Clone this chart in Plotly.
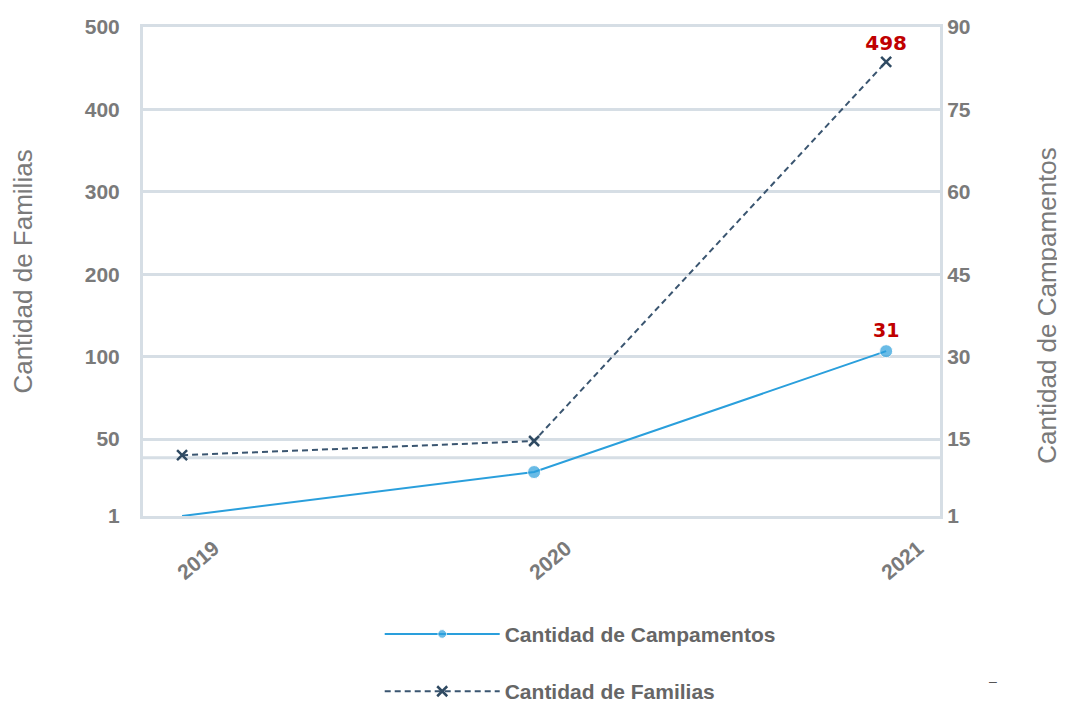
import plotly.graph_objects as go

years = [2019, 2020, 2021]
campamentos = [1, 9, 31]
familias = [28, 45, 498]

# tick labels as printed on each side; the left labels sit on the same grid lines as the right ones
familias_ticks = ["1", "50", "100", "200", "300", "400", "500"]
campamentos_ticks = [1, 15, 30, 45, 60, 75, 90]

camp_range = [1, 90]
fam_range = [-44.6, 539.6]

FONT = "Liberation Sans, Arial, sans-serif"
GREY = "#7a7a7a"
GRID = "#d6dee5"
RED = "#c00000"


def last_label(values):
    return [""] * (len(values) - 1) + [str(values[-1])]


def camp_to_fam(c):
    # same height on the plot, expressed on the familias axis
    t = (c - camp_range[0]) / (camp_range[1] - camp_range[0])
    return fam_range[0] + t * (fam_range[1] - fam_range[0])


fig = go.Figure()

fig.add_trace(
    go.Scatter(
        x=years,
        y=campamentos,
        yaxis="y",
        name="Cantidad de Campamentos",
        legendgroup="c",
        mode="lines+markers+text",
        line={"color": "#2a9fdc", "width": 2},
        marker={"size": [0, 13, 13], "color": "#2a9fdc", "symbol": "circle"},
        text=last_label(campamentos),
        textposition="top center",
        textfont={"color": RED, "size": 19, "family": "DejaVu Sans", "weight": "bold"},
        cliponaxis=False,
    )
)
fig.add_trace(
    go.Scatter(
        x=years,
        y=familias,
        yaxis="y2",
        name="Cantidad de Familias",
        legendgroup="f",
        mode="lines+markers+text",
        line={"color": "#3a5570", "width": 2, "dash": "6px,4px"},
        marker={"size": 10, "color": "#2f4a62", "symbol": "x-thin", "line": {"color": "#2f4a62", "width": 2.5}},
        text=last_label(familias),
        textposition="top center",
        textfont={"color": RED, "size": 20, "family": "DejaVu Sans", "weight": "bold"},
        cliponaxis=False,
    )
)

# extra light rule seen in the original between the 1 and 15 grid lines
fig.add_shape(
    type="line", xref="paper", x0=0, x1=1, yref="y", y0=11.6, y1=11.6,
    line={"color": GRID, "width": 3}, layer="below",
)

fig.add_annotation(
    text="Cantidad de Campamentos",
    textangle=-90,
    xref="paper", x=1, xanchor="center", xshift=107,
    yref="paper", y=0.43, yanchor="middle",
    showarrow=False,
    font={"size": 26, "color": GREY},
)
# stray dash at the lower right of the original
fig.add_annotation(
    text="–",
    xref="paper", x=1, xanchor="center", xshift=53,
    yref="paper", y=-0.337, yanchor="middle",
    showarrow=False,
    font={"size": 14, "color": "#555555"},
)

tick_font = {"size": 21, "color": GREY, "weight": "bold"}
title_font = {"size": 26, "color": GREY}

fig.update_layout(
    width=1057,
    height=696,
    paper_bgcolor="white",
    plot_bgcolor="white",
    margin={"l": 135, "r": 125, "t": 19, "b": 188, "autoexpand": False},
    font={"family": FONT, "color": GREY},
    showlegend=True,
    legend={
        "orientation": "v",
        "x": 0.297,
        "y": -0.2,
        "xanchor": "left",
        "yanchor": "top",
        "font": {"size": 21, "color": "#666666", "weight": "bold"},
        "itemwidth": 115,
        "tracegroupgap": 27,
        "traceorder": "grouped",
    },
    xaxis={
        "range": [2018.889, 2021.153],
        "tickvals": years,
        "ticktext": [str(y) for y in years],
        "tickangle": -40,
        "showgrid": False,
        "zeroline": False,
        "showline": True,
        "mirror": True,
        "linecolor": GRID,
        "linewidth": 3,
        "ticklabelstandoff": 9,
        "ticklabelshift": 32,
        "tickfont": {"size": 21, "color": GREY, "weight": "bold"},
    },
    yaxis={
        "side": "right",
        "range": camp_range,
        "tickvals": campamentos_ticks,
        "showgrid": True,
        "gridcolor": GRID,
        "gridwidth": 3,
        "zeroline": False,
        "showline": True,
        "linecolor": GRID,
        "linewidth": 3,
        "tickfont": tick_font,
    },
    yaxis2={
        "title": {"text": "Cantidad de Familias", "font": title_font, "standoff": 55},
        "overlaying": "y",
        "side": "left",
        "range": fam_range,
        "tickvals": [camp_to_fam(c) for c in campamentos_ticks],
        "ticktext": familias_ticks,
        "showgrid": False,
        "zeroline": False,
        "showline": True,
        "linecolor": GRID,
        "linewidth": 3,
        "ticklabelstandoff": 16,
        "tickfont": tick_font,
    },
)

fig.write_html("out.html")
